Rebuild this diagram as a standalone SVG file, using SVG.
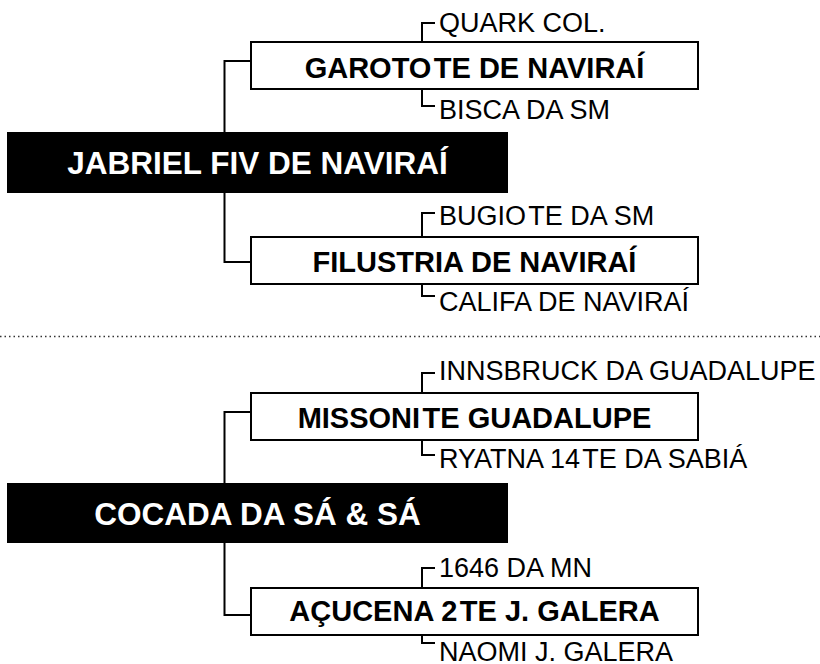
<svg xmlns="http://www.w3.org/2000/svg" width="820" height="664" viewBox="0 0 820 664">
<style>
.conn{fill:none;stroke:#000;stroke-width:2}
.dot{fill:none;stroke:#333;stroke-width:1.5;stroke-dasharray:1.5 3}
.root rect{fill:#000}
.root text{fill:#fff;font-family:"Liberation Sans",Arial,sans-serif;font-weight:bold;font-size:31.5px;text-anchor:middle}
.child rect{fill:#fff;stroke:#000;stroke-width:2}
.child text{fill:#000;font-family:"Liberation Sans",Arial,sans-serif;font-weight:bold;font-size:29px;text-anchor:middle}
.lbl{fill:#000;font-family:"Liberation Sans",Arial,sans-serif;font-size:27px}
</style>
<rect width="820" height="664" fill="#fff"/>
<g id="connectors" class="conn">
<path d="M250 61H224.5V262H250"/>
<path d="M250 412H224.5V615H250"/>
<path d="M435 23H422V41"/>
<path d="M422 90V106H435"/>
<path d="M435 213H422V236"/>
<path d="M422 285V296H435"/>
<path d="M435 373H422V392"/>
<path d="M422 441V455H435"/>
<path d="M435 568H422V587"/>
<path d="M422 636V643H435"/>
</g>
<line id="separator" class="dot" x1="0" y1="336.5" x2="820" y2="336.5"/>
<g id="jabriel" class="root">
<rect x="7" y="132" width="501" height="61"/>
<text x="257.5" y="173.5">JABRIEL FIV DE NAVIRAÍ</text>
</g>
<g id="garotote" class="child">
<rect x="251" y="42" width="447" height="47"/>
<text x="474.5" y="77.5">GAROTO&#x200A;TE DE NAVIRAÍ</text>
</g>
<g id="quark" class="lbl"><text x="439" y="32">QUARK COL.</text></g>
<g id="bisca" class="lbl"><text x="439" y="118.5">BISCA DA SM</text></g>
<g id="filustria" class="child">
<rect x="251" y="237" width="447" height="47"/>
<text x="474.5" y="272">FILUSTRIA DE NAVIRAÍ</text>
</g>
<g id="bugiote" class="lbl"><text x="439" y="225">BUGIO&#x200A;TE DA SM</text></g>
<g id="califa" class="lbl"><text x="439" y="310.5">CALIFA DE NAVIRAÍ</text></g>
<g id="cocada" class="root">
<rect x="7" y="483" width="501" height="60"/>
<text x="257.5" y="524.5">COCADA DA SÁ &amp; SÁ</text>
</g>
<g id="missonite" class="child">
<rect x="251" y="393" width="447" height="47"/>
<text x="474.5" y="427.5">MISSONI&#x200A;TE GUADALUPE</text>
</g>
<g id="innsbruck" class="lbl"><text x="439" y="380">INNSBRUCK DA GUADALUPE</text></g>
<g id="ryatna" class="lbl"><text x="439" y="468">RYATNA 14&#x200A;TE DA SABIÁ</text></g>
<g id="acucena" class="child">
<rect x="251" y="588" width="447" height="47"/>
<text x="474.5" y="621">AÇUCENA 2&#x200A;TE J. GALERA</text>
</g>
<g id="n1646" class="lbl"><text x="439" y="577">1646 DA MN</text></g>
<g id="naomi" class="lbl"><text x="439" y="661">NAOMI J. GALERA</text></g>
</svg>
